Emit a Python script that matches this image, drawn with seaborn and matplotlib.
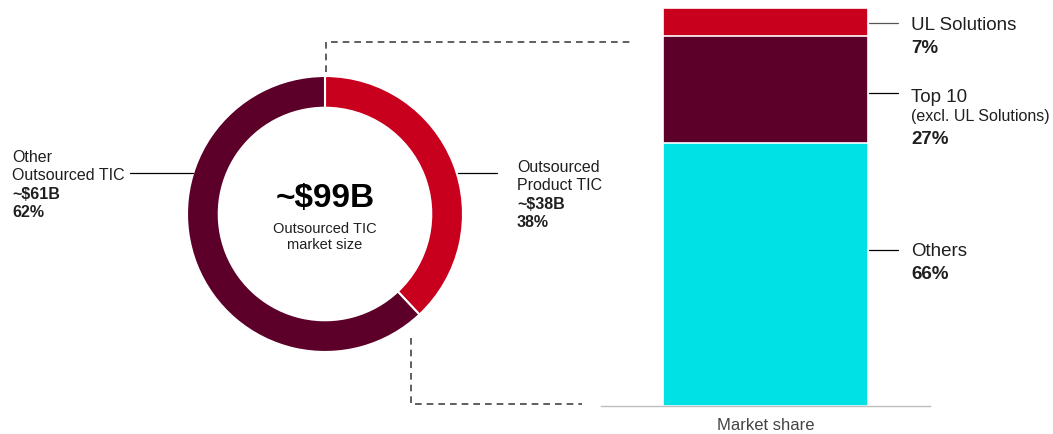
import matplotlib
matplotlib.use("Agg")
import matplotlib.pyplot as plt
import seaborn as sns

# donut: outsourced TIC market split
donut_names = ["Outsourced\nProduct TIC", "Other\nOutsourced TIC"]
donut_values = [38, 62]          # percent
donut_sizes = ["~$38B", "~$61B"]
donut_colors = ["#C8001E", "#5C0029"]
total_size = "~$99B"

# stacked bar: market share
bar_names = ["Others", "Top 10", "UL Solutions"]
bar_notes = ["", "(excl. UL Solutions)", ""]
bar_values = [66, 27, 7]
bar_colors = ["#00E1E6", "#5C0029", "#C8001E"]
bar_category = "Market share"

sns.set_style("white")
plt.rcParams["font.family"] = ["Liberation Sans", "DejaVu Sans"]
TXT = "#1f1f1f"

W, H = 1053, 434
fig = plt.figure(figsize=(W / 100, H / 100), dpi=100)

# donut axes (center 325,214 px, radius 138 px)
cx, cy, r = 325, 214, 138
ax_d = fig.add_axes([(cx - r) / W, (H - cy - r) / H, 2 * r / W, 2 * r / H])
ax_d.pie(donut_values, colors=donut_colors, startangle=90, counterclock=False,
         radius=1, wedgeprops=dict(width=0.23, edgecolor="white", linewidth=1.5))
ax_d.set_xlim(-1, 1)
ax_d.set_ylim(-1, 1)
ax_d.axis("off")

# stacked bar via seaborn (draw cumulative totals, tallest first)
ax_b = fig.add_axes([601 / W, (H - 406) / H, 329 / W, 398 / H])
tops = []
acc = 0
for v in bar_values:
    acc += v
    tops.append(acc)
for top, col in reversed(list(zip(tops, bar_colors))):
    sns.barplot(x=[bar_category], y=[top], color=col, width=0.623, saturation=1,
                edgecolor="white", linewidth=1.2, ax=ax_b)
ax_b.set_ylim(0, 100)
ax_b.set_xlim(-0.5, 0.5)
ax_b.set_yticks([])
ax_b.set_ylabel("")
ax_b.set_xlabel("")
ax_b.tick_params(axis="x", length=0, pad=9, labelsize=12, labelcolor="#444444")
for s in ["left", "top", "right"]:
    ax_b.spines[s].set_visible(False)
ax_b.spines["bottom"].set_color("#BDBDBD")
ax_b.spines["bottom"].set_linewidth(1)

# overlay in pixel coordinates for connectors and labels
ov = fig.add_axes([0, 0, 1, 1])
ov.set_xlim(0, W)
ov.set_ylim(H, 0)
ov.axis("off")

dash = dict(color="#444444", lw=1.2, ls=(0, (4, 3)))
ov.plot([326, 326, 633], [72, 42, 42], **dash)
ov.plot([411, 411, 582], [338, 404, 404], **dash)

# center text
ov.text(cx, 207, total_size, ha="center", va="baseline", fontsize=24,
        fontweight="bold", color="black")
ov.text(cx, 233, "Outsourced TIC", ha="center", va="baseline", fontsize=10.5, color=TXT)
ov.text(cx, 249, "market size", ha="center", va="baseline", fontsize=10.5, color=TXT)

# donut labels
ov.plot([130, 193], [173, 173], color="black", lw=0.9)
ov.plot([458, 497], [173, 173], color="black", lw=0.9)
label_pos = [(517, 172), (12, 162)]
for name, size, pct, (lx, ly) in zip(donut_names, donut_sizes, donut_values, label_pos):
    y = ly
    for line in name.split("\n"):
        ov.text(lx, y, line, ha="left", va="baseline", fontsize=11.5, color=TXT)
        y += 18.5
    ov.text(lx, y, size, ha="left", va="baseline", fontsize=11.5, fontweight="bold", color=TXT)
    y += 18
    ov.text(lx, y, f"{pct}%", ha="left", va="baseline", fontsize=11.5, fontweight="bold", color=TXT)

# bar labels
bar_label_pos = [(250, 256), (93, 102), (23, 30)]
line_cols = ["black", "black", "#555555"]
for name, note, v, (ly, by), lc in zip(bar_names, bar_notes, bar_values, bar_label_pos, line_cols):
    ov.plot([869, 898], [ly, ly], color=lc, lw=0.9)
    ov.text(911, by, name, ha="left", va="baseline", fontsize=13.5, color=TXT)
    y = by
    if note:
        y += 19
        ov.text(911, y, note, ha="left", va="baseline", fontsize=11.5, color=TXT)
    y += 23
    ov.text(911, y, f"{v}%", ha="left", va="baseline", fontsize=13.5,
            fontweight="bold", color=TXT)

fig.savefig("out.png", dpi=100)
